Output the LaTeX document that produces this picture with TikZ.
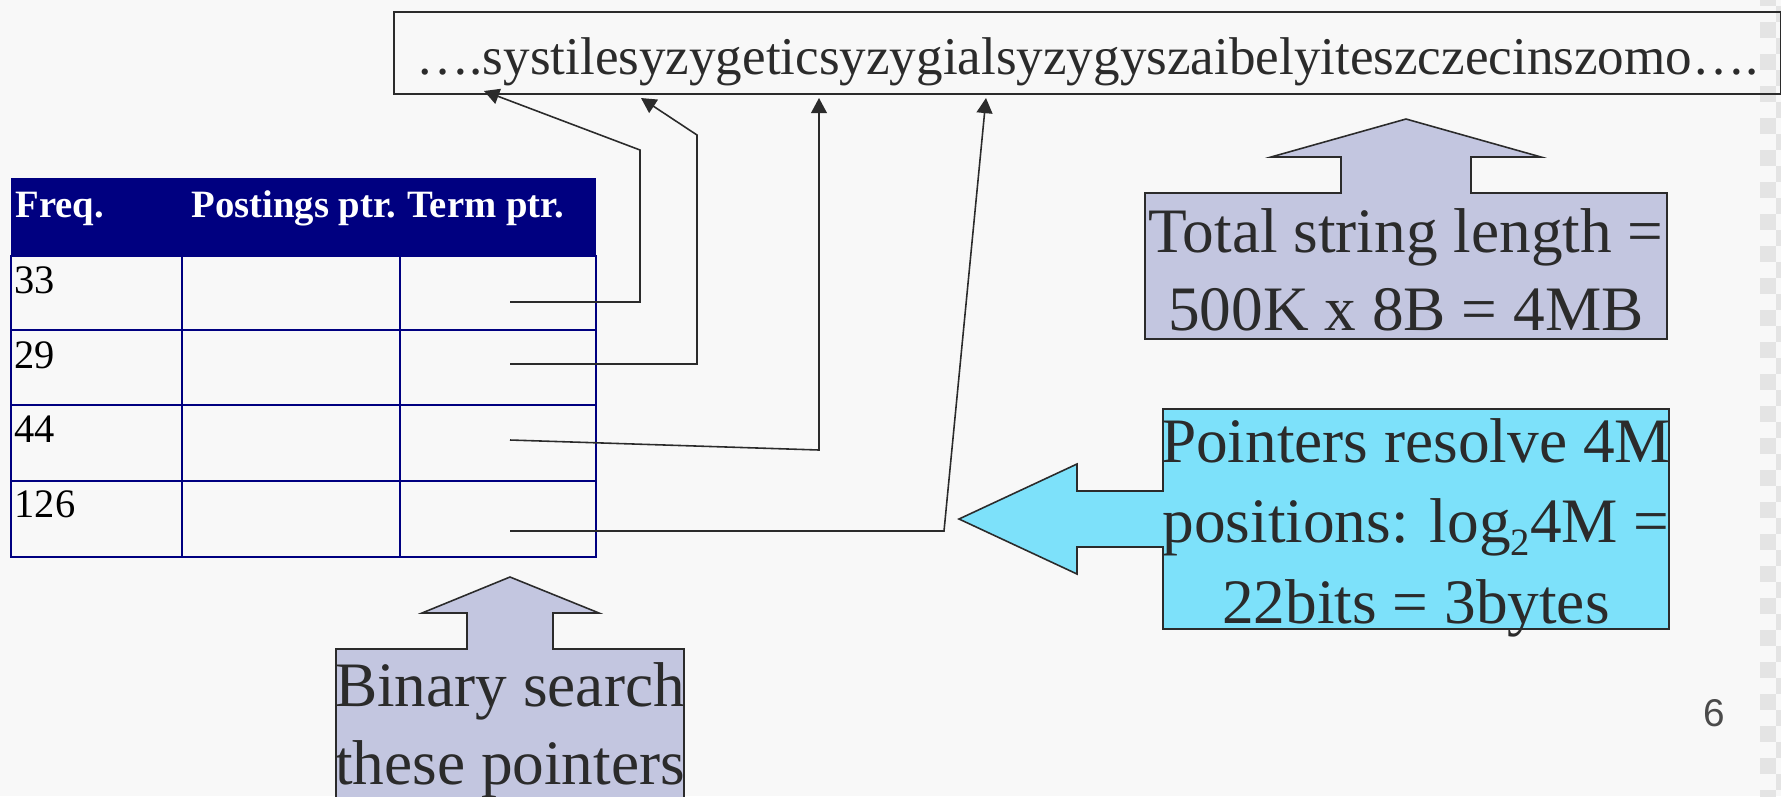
\documentclass[tikz,border=0pt]{standalone}
\usepackage{fontspec}
\setmainfont{Liberation Serif}
\newfontfamily\pagenumfont{Liberation Sans}
\usetikzlibrary{arrows.meta}

\definecolor{bgcol}{RGB}{248,248,248}
\definecolor{checkcol}{RGB}{228,228,228}
\definecolor{navyhead}{RGB}{0,0,128}
\definecolor{inkcol}{RGB}{43,43,43}
\definecolor{lavender}{RGB}{195,198,224}
\definecolor{cyanbox}{RGB}{125,225,250}

\begin{document}
\begin{tikzpicture}[
  x=0.01cm, y=-0.01cm,
  every node/.style={inner sep=0pt},
  grid/.style={draw=navyhead, line width=0.5pt},
  ptr/.style={draw=inkcol, line width=0.45pt, -{Triangle[length=4.3pt,width=4.5pt]}},
  callout/.style={draw=inkcol, line width=0.45pt},
  bigtext/.style={font=\fontsize{18}{22}\selectfont, text=inkcol, align=center, anchor=base},
  headtext/.style={font=\fontsize{11}{13}\selectfont\bfseries, text=white, anchor=base west},
  celltext/.style={font=\fontsize{11.5}{13}\selectfont, anchor=base west}
]
  % page and checker strip
  \fill[bgcol] (0,0) rectangle (1781,796);
  \useasboundingbox (0,0) rectangle (1781,796);
  \foreach \k in {-1,...,24} {
    \fill[checkcol] (1760,22+32*\k) rectangle (1776,38+32*\k);
    \fill[checkcol] (1776,6+32*\k) rectangle (1781,22+32*\k);
  }

  % term string
  \node[draw=inkcol, line width=0.6pt, anchor=north west, minimum width=13.86cm,
        text height=0.62cm, text depth=0.20cm, font=\fontsize{15.1}{18}\selectfont,
        text=inkcol] (strbox) at (393,11)
        {….systilesyzygeticsyzygialsyzygyszaibelyiteszczecinszomo….};

  % dictionary table
  \fill[navyhead] (11,178) rectangle (596,256);
  \node[headtext] (hfreq) at (15,217) {Freq.};
  \node[headtext] (hpost) at (191,217) {Postings ptr.};
  \node[headtext] (hterm) at (407,217) {Term ptr.};
  \draw[grid] (11,256) rectangle (596,557);
  \draw[grid] (11,330) -- (596,330);
  \draw[grid] (11,405) -- (596,405);
  \draw[grid] (11,481) -- (596,481);
  \draw[grid] (182,256) -- (182,557);
  \draw[grid] (400,256) -- (400,557);
  \node[celltext] (f33) at (14,293) {33};
  \node[celltext] (f29) at (14,368) {29};
  \node[celltext] (f44) at (14,442) {44};
  \node[celltext] (f126) at (14,517) {126};

  % term pointers
  \coordinate (t33) at (510,302);
  \coordinate (b33) at (640,302);
  \coordinate (c33) at (640,150);
  \coordinate (h33) at (484,91);
  \coordinate (t29) at (510,364);
  \coordinate (b29) at (697,364);
  \coordinate (c29) at (697,135);
  \coordinate (h29) at (641,98);
  \coordinate (t44) at (510,440);
  \coordinate (b44) at (819,450);
  \coordinate (h44) at (819,98);
  \coordinate (t126) at (510,531);
  \coordinate (b126) at (944,531);
  \coordinate (h126) at (986,98);
  \draw[ptr] (t33) -- (b33) -- (c33) -- (h33);
  \draw[ptr] (t29) -- (b29) -- (c29) -- (h29);
  \draw[ptr] (t44) -- (b44) -- (h44);
  \draw[ptr] (t126) -- (b126) -- (h126);

  % callouts
  \draw[callout, fill=lavender] (1145,193) -- (1341,193) -- (1341,157) -- (1271,157)
    -- (1406,119) -- (1541,157) -- (1471,157) -- (1471,193) -- (1667,193)
    -- (1667,339) -- (1145,339) -- cycle;
  \node[bigtext] (totaltxt) at (1406,330) {Total string length =\\500K x 8B = 4MB};

  \draw[callout, fill=cyanbox] (1163,409) -- (1669,409) -- (1669,629) -- (1163,629)
    -- (1163,547) -- (1077,547) -- (1077,574) -- (959,519) -- (1077,464)
    -- (1077,491) -- (1163,491) -- cycle;
  \node[bigtext, font=\fontsize{18}{22.8}\selectfont] (ptrtxt) at (1416,623)
    {Pointers resolve 4M\\positions: log\raisebox{-0.45ex}{\fontsize{11}{11}\selectfont 2}4M =\\22bits = 3bytes};

  \draw[callout, fill=lavender] (336,805) -- (336,649) -- (467,649) -- (467,613)
    -- (422,613) -- (510,577) -- (599,613) -- (553,613) -- (553,649) -- (684,649)
    -- (684,805);
  \node[bigtext] (bintxt) at (510,784) {Binary search\\these pointers};

  \node[font=\pagenumfont\fontsize{11}{13}\selectfont, text=inkcol!85] (pagenum) at (1714,713) {6};
\end{tikzpicture}
\end{document}
